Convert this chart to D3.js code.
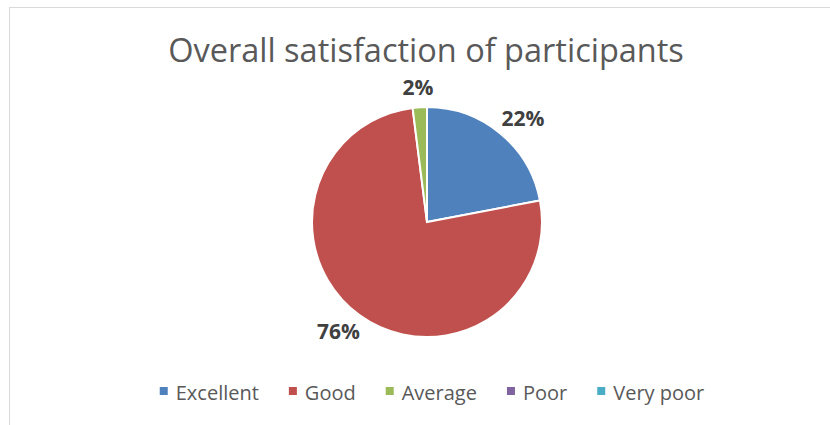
<!DOCTYPE html>
<html>
<head>
<meta charset="utf-8">
<script src="https://cdn.jsdelivr.net/npm/d3@7"></script>
<style>
  body { margin: 0; background: #fff; }
  svg { display: block; }
</style>
</head>
<body>
<div id="chart"></div>
<script>
// chart data
const categories = ["Excellent", "Good", "Average", "Poor", "Very poor"];
const shares = [22, 76, 2, 0, 0];
const colours = ["#4F81BD", "#C0504D", "#9BBB59", "#8064A2", "#4BACC6"];
const title = "Overall satisfaction of participants";

const width = 830, height = 425;
const cx = 427, cy = 222, radius = 115;

const svg = d3.select("#chart").append("svg")
    .attr("width", width)
    .attr("height", height);

// chart area border (goes off the right / bottom of the picture)
svg.append("rect")
    .attr("x", 9.5).attr("y", 7.5)
    .attr("width", 840).attr("height", 440)
    .attr("fill", "#fff")
    .attr("stroke", "#d9d9d9");

svg.append("text")
    .attr("x", 426).attr("y", 62)
    .attr("text-anchor", "middle")
    .style("font-family", "'Open Sans', sans-serif")
    .style("font-size", "32.5px")
    .style("fill", "#595959")
    .text(title);

const rows = categories.map((c, i) => ({cat: c, value: shares[i], colour: colours[i]}));

const pie = d3.pie().sort(null).value(d => d.value);
const arc = d3.arc().innerRadius(0).outerRadius(radius);
const labelArc = d3.arc().innerRadius(radius + 14).outerRadius(radius + 14);

const g = svg.append("g").attr("transform", "translate(" + cx + "," + cy + ")");
const arcs = pie(rows).filter(d => d.data.value > 0);

g.selectAll("path")
  .data(arcs)
  .enter()
  .append("path")
    .attr("d", arc)
    .attr("fill", d => d.data.colour)
    .attr("stroke", "#fff")
    .attr("stroke-width", 2);

// labels sit just outside the pie, pushed away from it by half their box
g.selectAll("text.lbl")
  .data(arcs)
  .enter()
  .append("text")
    .attr("class", "lbl")
    .attr("text-anchor", "middle")
    .attr("dominant-baseline", "central")
    .style("font-family", "'Open Sans', sans-serif")
    .style("font-weight", "bold")
    .style("font-size", "21px")
    .style("fill", "#404040")
    .text(d => d.data.value + "%")
    .attr("transform", function(d){
        const c = labelArc.centroid(d);
        const a = (d.startAngle + d.endAngle) / 2;
        const w = this.getComputedTextLength();
        return "translate(" + (c[0] + Math.sin(a) * w / 2) + "," + (c[1] - Math.cos(a) * 6) + ")";
    });

// legend, laid out by measured text widths
const legend = svg.append("g");
const gap = 30;
let x = 0;
rows.forEach(function(d){
    const item = legend.append("g").attr("transform", "translate(" + x + ",0)");
    item.append("rect")
        .attr("x", 0).attr("y", -4)
        .attr("width", 8).attr("height", 8)
        .attr("fill", d.colour);
    const t = item.append("text")
        .attr("x", 16).attr("y", 1)
        .attr("dominant-baseline", "central")
        .style("font-family", "'Open Sans', sans-serif")
        .style("font-size", "20px")
        .style("fill", "#595959")
        .text(d.cat);
    x += 16 + t.node().getComputedTextLength() + gap;
});
const legendWidth = x - gap;
legend.attr("transform", "translate(" + (432 - legendWidth / 2) + ",391)");
</script>
</body>
</html>
